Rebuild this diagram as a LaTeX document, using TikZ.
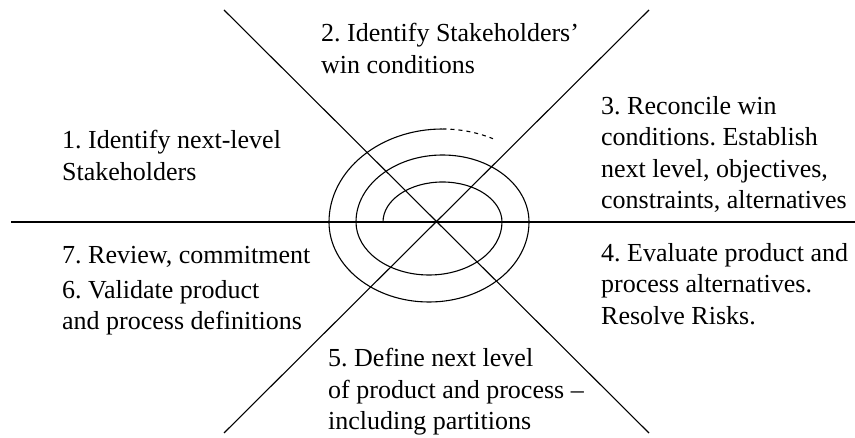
\documentclass[tikz,border=0pt]{standalone}
\usepackage{fontspec}
\setmainfont{Liberation Serif}
\tikzset{
  phase/.style = {align=left, inner sep=0pt, anchor=north west, font=\fontsize{26}{31.5}\selectfont\frenchspacing},
  spoke/.style = {draw, black, line width=1.1pt},
  turn/.style = {spoke, line cap=butt}
}

\begin{document}
\begin{tikzpicture}[x=1pt,y=1pt]
\useasboundingbox (0,0) rectangle (855,437);
\coordinate (c) at (436,215);
\coordinate (w) at (11,215);
\coordinate (e) at (855,215);
\coordinate (nw) at (224,427);
\coordinate (se) at (649,4);
\coordinate (sw) at (224,4);
\coordinate (ne) at (649,427);
\draw [spoke] (w) -- (e);
\draw [spoke] (nw) -- (se);
\draw [spoke] (sw) -- (ne);
% spiral, half turns
\coordinate (s0) at (383,215);
\draw [turn] (s0)
    arc[start angle=180, end angle=0, x radius=59.5, y radius=40]
    arc[start angle=0, end angle=-180, x radius=73, y radius=53]
    arc[start angle=180, end angle=0, x radius=86.5, y radius=67]
    arc[start angle=0, end angle=-180, x radius=100, y radius=80]
    arc[start angle=180, end angle=90, x radius=113.5, y radius=93] coordinate (s1);
\draw [turn, dash pattern=on 4pt off 4pt] (s1)
    arc[start angle=90, end angle=63.6, x radius=113.5, y radius=93];
% phases
\node [phase] (p1) at (62,307) {1. Identify next-level\\Stakeholders};
\node [phase] (p2) at (321,414) {2. Identify Stakeholders'\\win conditions};
\node [phase] (p3) at (601,341) {3. Reconcile win\\conditions. Establish\\next level, objectives,\\constraints, alternatives};
\node [phase] (p4) at (601,194) {4. Evaluate product and\\process alternatives.\\Resolve Risks.};
\node [phase] (p5) at (328,89) {5. Define next level\\of product and process --\\including partitions};
\node [phase] (p6) at (62,157) {6. Validate product\\and process definitions};
\node [phase] (p7) at (62,191) {7. Review, commitment};
\end{tikzpicture}
\end{document}
